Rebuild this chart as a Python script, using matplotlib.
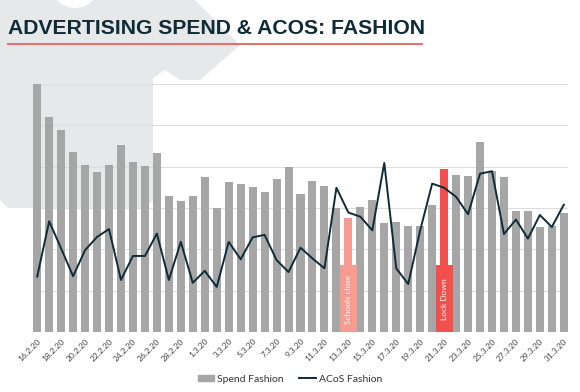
import matplotlib
matplotlib.use("Agg")
import matplotlib.pyplot as plt
import matplotlib.patches as mpatches
from matplotlib.lines import Line2D
import numpy as np

# Data (in gridline units)
dates = ["16.2.20", "17.2.20", "18.2.20", "19.2.20", "20.2.20", "21.2.20", "22.2.20",
         "23.2.20", "24.2.20", "25.2.20", "26.2.20", "27.2.20", "28.2.20", "29.2.20",
         "1.3.20", "2.3.20", "3.3.20", "4.3.20", "5.3.20", "6.3.20", "7.3.20", "8.3.20",
         "9.3.20", "10.3.20", "11.3.20", "12.3.20", "13.3.20", "14.3.20", "15.3.20",
         "16.3.20", "17.3.20", "18.3.20", "19.3.20", "20.3.20", "21.3.20", "22.3.20",
         "23.3.20", "24.3.20", "25.3.20", "26.3.20", "27.3.20", "28.3.20", "29.3.20",
         "30.3.20", "31.3.20"]
spend = [6.00, 5.19, 4.88, 4.36, 4.05, 3.86, 4.05, 4.53, 4.11, 4.01, 4.32, 3.29, 3.16, 3.29,
         3.74, 3.00, 3.62, 3.58, 3.52, 3.38, 3.69, 3.99, 3.34, 3.66, 3.54, 3.00, 2.77, 3.02,
         3.20, 2.63, 2.67, 2.57, 2.57, 3.07, 3.95, 3.81, 3.77, 4.60, 3.89, 3.74, 2.93, 2.93,
         2.53, 2.57, 2.87]
acos = [1.34, 2.68, 2.02, 1.35, 1.98, 2.30, 2.49, 1.26, 1.84, 1.84, 2.38, 1.26, 2.18, 1.19,
        1.48, 1.09, 2.18, 1.76, 2.29, 2.35, 1.74, 1.45, 2.04, 1.78, 1.54, 3.49, 2.89, 2.79,
        2.46, 4.09, 1.54, 1.16, 2.46, 3.59, 3.49, 3.27, 2.85, 3.83, 3.89, 2.37, 2.72, 2.26,
        2.83, 2.54, 3.08]
events = {"13.3.20": "Schools close", "21.3.20": "Lock Down"}

GREY = "#a6a6a6"
NAVY = "#0f2b38"
SALMON = "#f79a90"
RED = "#f2504c"
BG_SHAPE = "#e7e8ea"

W, H = 580, 392
fig = plt.figure(figsize=(W / 100, H / 100), dpi=100)

# decorative background shape (top-left), pixel coords -> figure fraction
shape_px = [(0, 0), (195, 0), (240, 45), (200, 80), (180, 80), (165, 70), (153, 78),
            (153, 200), (145, 208), (8, 208), (0, 200)]
shape = mpatches.Polygon([(x / W, 1 - y / H) for x, y in shape_px], closed=True,
                         transform=fig.transFigure, facecolor=BG_SHAPE,
                         edgecolor="none", zorder=-2)
fig.patches.append(shape)
circle = mpatches.Ellipse((75 / W, 1 - (-12) / H), 45 / W, 40 / H,
                          transform=fig.transFigure, facecolor="white",
                          edgecolor="none", zorder=-1)
fig.patches.append(circle)

# title + underline
fig.text(8 / W, 1 - 28 / H, "ADVERTISING SPEND & ACOS: FASHION", fontsize=15.2,
         fontweight="bold", color=NAVY, family="Liberation Sans", va="center", ha="left")
fig.add_artist(Line2D([8 / W, 422 / W], [1 - 44 / H, 1 - 44 / H],
                      transform=fig.transFigure, color="#e8615f", lw=1.3))

# axes: baseline at y=332, 6 units -> y=84
ymax = 6.1
unit = (332 - 84) / 6
top_px = 332 - ymax * unit
ax = fig.add_axes([33 / W, 1 - 332 / H, (568 - 33) / W, (332 - top_px) / H])
ax.patch.set_alpha(0)

x = np.arange(len(dates))
colors = []
for d in dates:
    if d == "13.3.20":
        colors.append(SALMON)
    elif d == "21.3.20":
        colors.append(RED)
    else:
        colors.append(GREY)
ax.bar(x, spend, width=0.67, color=colors, zorder=2)
ax.plot(x, acos, color=NAVY, lw=1.4, zorder=4)

# event label boxes
for d, label in events.items():
    i = dates.index(d)
    c = SALMON if d == "13.3.20" else RED
    ax.add_patch(mpatches.Rectangle((i - 0.72, 0), 1.44, 1.62, facecolor=c,
                                    edgecolor="none", zorder=3))
    ax.text(i, 0.8, label, rotation=90, color="white", fontsize=6,
            family="Lato", ha="center", va="center", zorder=5)

ax.set_xlim(-0.35, len(dates) - 0.65)
ax.set_ylim(0, ymax)
ax.set_yticks(np.arange(0, 7, 1))
ax.yaxis.grid(True, color="#dcdcdc", lw=0.7, zorder=1)
ax.set_axisbelow(True)
ax.tick_params(axis="y", left=False, labelleft=False)
ax.set_xticks(x[::2])
ax.set_xticklabels(dates[::2], rotation=45, ha="right", rotation_mode="anchor",
                   fontsize=6, color="#444444", family="Lato")
ax.tick_params(axis="x", length=0, pad=4)
for s in ax.spines.values():
    s.set_visible(False)

handles = [mpatches.Patch(color=GREY, label="Spend Fashion"),
           Line2D([0], [0], color=NAVY, lw=1.4, label="ACoS Fashion")]
fig.legend(handles=handles, loc="center", bbox_to_anchor=(0.5, 1 - 379 / H), ncol=2,
           frameon=False, prop={"family": "Lato", "size": 7.5}, handlelength=1.6,
           handleheight=0.5, columnspacing=1.5, handletextpad=0.3, labelcolor="#333333")

fig.savefig("out.png", dpi=100)
